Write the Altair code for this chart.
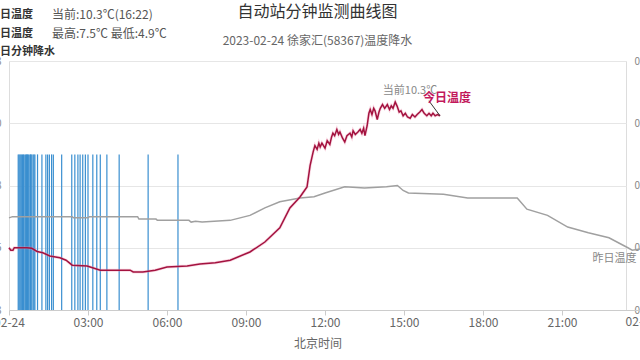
import altair as alt
import pandas as pd

# ---- data ----
today_times = ["00:00", "00:04", "00:09", "00:12", "00:41", "00:52", "01:04", "01:17", "01:33", "01:56",
               "02:10", "02:24", "02:58", "03:05", "03:28", "04:36", "04:43", "05:05", "05:33", "06:00",
               "06:46", "07:15", "07:50", "08:24", "09:09", "09:43", "10:17", "10:40", "11:03", "11:19",
               "11:26", "11:33", "11:37", "11:42", "11:46", "11:49", "11:53", "12:00", "12:05", "12:11",
               "12:15", "12:18", "12:22", "12:27", "12:31", "12:34", "12:40", "12:45", "12:50", "12:57",
               "13:01", "13:04", "13:09", "13:15", "13:20", "13:24", "13:28", "13:31", "13:36", "13:40",
               "13:43", "13:47", "13:51", "13:54", "13:59", "14:03", "14:06", "14:11", "14:16", "14:22",
               "14:27", "14:31", "14:35", "14:40", "14:44", "14:49", "14:53", "14:58", "15:03", "15:08",
               "15:14", "15:19", "15:25", "15:30", "15:36", "15:41", "15:46", "15:52", "15:57", "16:02",
               "16:06", "16:11", "16:16", "16:22"]
today_temps = [5.0, 4.9, 4.9, 5.0, 5.0, 4.98, 4.85, 4.8, 4.67, 4.6,
               4.5, 4.3, 4.27, 4.23, 4.1, 4.1, 4.03, 4.03, 4.1, 4.23,
               4.27, 4.35, 4.4, 4.5, 4.83, 5.23, 5.8, 6.6, 7.04, 7.44,
               8.3, 8.85, 9.1, 8.95, 9.2, 9.05, 9.2, 9.0, 9.3, 9.15,
               9.45, 9.6, 9.5, 9.75, 9.55, 9.65, 9.4, 9.25, 9.5, 9.6,
               9.45, 9.7, 9.55, 9.65, 9.75, 9.6, 9.8, 9.5, 9.9, 10.4,
               10.55, 10.35, 10.6, 10.5, 10.15, 10.45, 10.6, 10.75, 10.6, 10.75,
               10.55, 10.7, 10.6, 10.85, 10.7, 10.45, 10.5, 10.3, 10.4, 10.25,
               10.2, 10.35, 10.25, 10.35, 10.45, 10.55, 10.4, 10.3, 10.4, 10.3,
               10.4, 10.3, 10.35, 10.3]

yest_times = ["00:00", "00:08", "02:24", "02:27", "03:00", "03:03", "04:53", "04:56", "05:35", "05:38",
              "06:50", "06:55", "07:05", "07:20", "08:24", "09:09", "09:43", "10:17", "11:03", "11:35",
              "12:00", "12:45", "13:30", "14:20", "14:45", "14:58", "15:10", "16:30", "17:25", "19:18",
              "19:40", "20:27", "21:13", "22:00", "22:47", "23:30", "23:40", "23:59"]
yest_temps = [6.2, 6.25, 6.25, 6.2, 6.2, 6.25, 6.25, 6.15, 6.15, 6.1,
              6.1, 6.03, 6.06, 6.03, 6.1, 6.3, 6.6, 6.85, 7.0, 7.05,
              7.2, 7.45, 7.4, 7.45, 7.5, 7.3, 7.2, 7.15, 7.0, 7.0,
              6.55, 6.3, 5.83, 5.6, 5.4, 5.0, 4.9, 4.95]

rain_times = ["00:21", "00:23", "00:25", "00:27", "00:29", "00:31", "00:33", "00:36", "00:38", "00:40",
              "00:42", "00:44", "00:46", "00:49", "00:50", "00:52", "00:55", "00:57", "00:59", "01:05",
              "01:15", "01:24", "01:28", "01:32", "01:37", "01:41", "02:00", "02:23", "02:30", "02:37",
              "02:42", "02:48", "02:54", "03:00", "03:11", "03:20", "03:28", "03:43", "04:11", "05:17",
              "06:25"]
rain_mm = [0.1, 0.1, 0.1, 0.1, 0.1, 0.1, 0.1, 0.1, 0.1, 0.1,
           0.1, 0.1, 0.1, 0.1, 0.1, 0.1, 0.1, 0.1, 0.1, 0.1,
           0.1, 0.1, 0.1, 0.1, 0.1, 0.1, 0.1, 0.1, 0.1, 0.1,
           0.1, 0.1, 0.1, 0.1, 0.1, 0.1, 0.1, 0.1, 0.1, 0.1,
           0.1]

x_ticks = [0, 3, 6, 9, 12, 15, 18, 21]
x_end_label = ["02-25"]
x_end_hour = [24]
temp_ticks = [2.5, 5, 7.5, 10, 12.5]
rain_ticks = [0, 0.04, 0.08, 0.12, 0.16]

legend_names = ["今日温度", "昨日温度", "昨日分钟降水"]
legend_values = ["当前:10.3℃(16:22)", "最高:7.5℃ 最低:4.9℃", ""]

FONT = "Noto Sans CJK SC"


def to_h(t):
    hh, mm = t.split(":")
    return int(hh) + int(mm) / 60.0


today = pd.DataFrame({"h": [to_h(t) for t in today_times], "T": today_temps})
yest = pd.DataFrame({"h": [to_h(t) for t in yest_times], "T": yest_temps})
rain = pd.DataFrame({"h": [to_h(t) for t in rain_times], "v": rain_mm})
last_today = today.tail(1)
last_yest = yest.tail(1)
end_lab = pd.DataFrame({"h": x_end_hour, "lab": x_end_label})

xscale = alt.Scale(domain=[0, 23.43], nice=False, zero=False)
xaxis = alt.Axis(values=x_ticks, grid=False, title="北京时间",
                 labelExpr="datum.value == 0 ? '02-24' : "
                           "(datum.value < 10 ? '0' : '') + datum.value + ':00'",
                 labelColor="#666666", labelFontSize=12, labelFont=FONT,
                 titleColor="#666666", titleFontSize=12, titleFont=FONT, titleFontWeight="normal",
                 titlePadding=10, domainColor="#cccccc", tickColor="#cccccc", tickSize=5,
                 labelPadding=2, labelFlush=False, labelOverlap=False)
X = alt.X("h:Q", scale=xscale, axis=xaxis)

tscale = alt.Scale(domain=[2.5, 12.5], nice=False, zero=False)
taxis = alt.Axis(values=temp_ticks, grid=True, gridColor="#e6e6e6", domain=False, ticks=False,
                 labelPadding=8, labelColor="#888888", title=None, labelFont=FONT)

rain_layer = alt.Chart(rain).mark_rule(color="#3a8fd0", strokeWidth=1.2).encode(
    x=X,
    y=alt.Y("v:Q", scale=alt.Scale(domain=[0, 0.16], nice=False),
            axis=alt.Axis(values=rain_ticks, orient="right", grid=False, domain=False, ticks=False,
                          labelPadding=8, labelColor="#888888", title=None, labelFont=FONT)),
    y2=alt.datum(0),
)

gray = alt.Chart(yest).mark_line(color="#a0a0a0", strokeWidth=1.5).encode(
    x=X, y=alt.Y("T:Q", scale=tscale, axis=taxis))
red_halo = alt.Chart(today).mark_line(color="#ee8fb0", strokeWidth=3, opacity=0.35).encode(
    x=X, y=alt.Y("T:Q", scale=tscale))
red = alt.Chart(today).mark_line(color="#a3123f", strokeWidth=1.5).encode(
    x=X, y=alt.Y("T:Q", scale=tscale))

cur_label = alt.Chart(last_today).mark_text(text="当前10.3℃", dx=-30, dy=-25, fontSize=11,
                                            color="#888888", font=FONT).encode(
    x=X, y=alt.Y("T:Q", scale=tscale))
today_label = alt.Chart(last_today).mark_text(text="今日温度", dx=7, dy=-18, fontSize=12,
                                              fontWeight="bold", color="#c2185b", font=FONT).encode(
    x=X, y=alt.Y("T:Q", scale=tscale))
pointer = alt.Chart(last_today).mark_rule(color="#333333", strokeWidth=1).encode(
    x=X, y=alt.Y("T:Q", scale=tscale),
    x2=alt.X2("h2:Q"), y2=alt.Y2("T2:Q"),
).transform_calculate(h2="datum.h - 0.42", T2="datum.T + 0.6")
yest_label = alt.Chart(last_yest).mark_text(text="昨日温度", align="left", dx=-48, dy=10,
                                            fontSize=11, color="#888888", font=FONT).encode(
    x=X, y=alt.Y("T:Q", scale=tscale))

end_label = alt.Chart(end_lab).mark_text(baseline="top", fontSize=12, color="#666666",
                                         font=FONT).encode(
    x=alt.X("h:Q", scale=xscale), y=alt.value(256), text="lab:N")
end_tick = alt.Chart(end_lab).mark_rule(color="#cccccc").encode(
    x=alt.X("h:Q", scale=xscale), y=alt.value(249), y2=alt.value(254))
end_axis = alt.Chart(end_lab).mark_rule(color="#cccccc").encode(
    x=alt.X("h:Q", scale=xscale), x2=alt.value(617), y=alt.value(249.5))

leg = pd.DataFrame({"name": legend_names, "value": legend_values, "row": [0, 1, 2]})
row_scale = alt.Scale(domain=[0, 2], range=[-46, -9])
leg_names = alt.Chart(leg).mark_text(align="left", baseline="middle", fontSize=11,
                                     fontWeight="bold", color="#333333", font=FONT).encode(
    x=alt.value(-20), y=alt.Y("row:Q", scale=row_scale, axis=None), text="name:N")
leg_vals = alt.Chart(leg).mark_text(align="left", baseline="middle", fontSize=12,
                                    color="#555555", font=FONT).encode(
    x=alt.value(43), y=alt.Y("row:Q", scale=row_scale, axis=None), text="value:N")

temps = alt.layer(gray, red_halo, red, pointer, cur_label, today_label, yest_label)
legend = alt.layer(leg_names, leg_vals)
ends = alt.layer(end_axis, end_tick, end_label)

chart = alt.layer(rain_layer, temps, legend, ends).resolve_scale(y="independent").properties(
    width=617, height=249,
    autosize=alt.AutoSizeParams(type="none"),
    padding={"left": 9, "right": 14, "top": 61, "bottom": 50},
    title=alt.Title("自动站分钟监测曲线图", subtitle="2023-02-24 徐家汇(58367)温度降水",
                    anchor="middle", font=FONT, fontSize=16, fontWeight="normal", color="#333333",
                    subtitleFont=FONT, subtitleFontSize=12, subtitleColor="#666666",
                    subtitlePadding=16, offset=-38),
).configure_view(stroke=None).configure(background="white")

chart.save("out.html", embed_options={"renderer": "svg", "actions": False})
